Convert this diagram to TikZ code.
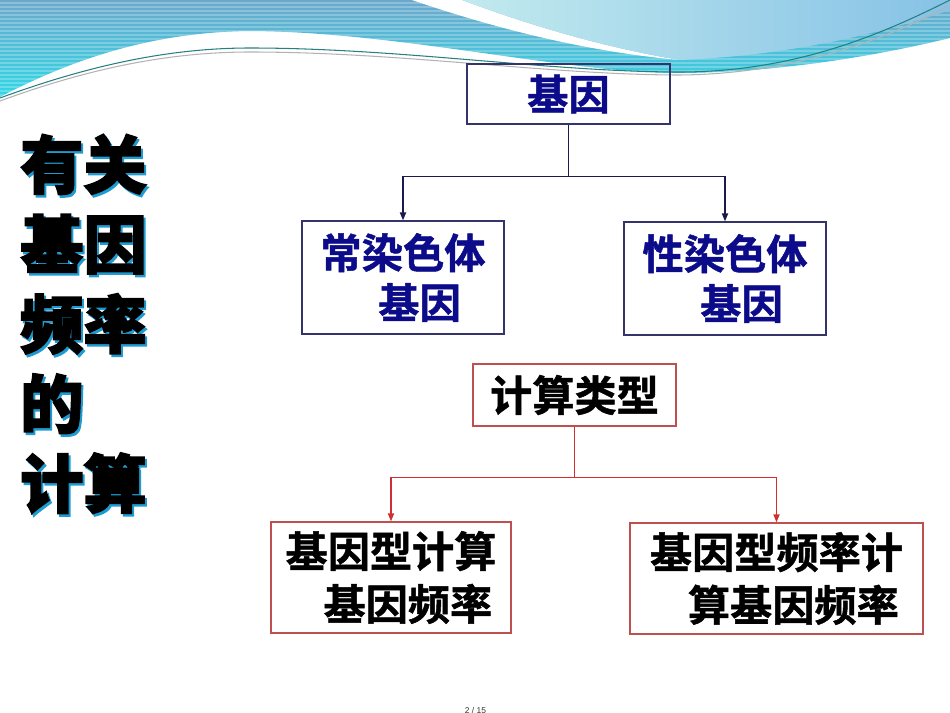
\documentclass[tikz,border=0pt]{standalone}
\usepackage{fontspec}
\usetikzlibrary{arrows.meta}
\newfontfamily\cjk{Noto Sans CJK SC Bold}[FakeBold=1.2]
\newfontfamily\cjkheavy{Noto Sans CJK SC Black}[FakeBold=2.5]
\newfontfamily\pagefont{Liberation Sans}
\definecolor{navytext}{HTML}{0C0C8A}
\definecolor{navyline}{HTML}{1A1A4C}
\definecolor{navyframe}{HTML}{34346A}
\definecolor{redframe}{HTML}{C05050}
\definecolor{redline}{HTML}{D03030}
\definecolor{shadowblue}{HTML}{1E9CD2}
\definecolor{wavetop}{HTML}{6CA8CC}
\definecolor{wavebottom}{HTML}{2ED8E6}
\definecolor{lightleft}{HTML}{C2EAEE}
\definecolor{lightright}{HTML}{86C2E6}

\begin{document}
\begin{tikzpicture}[x=0.02cm,y=-0.02cm,
    titletext/.style={align=left,inner sep=0pt,font=\cjkheavy\fontsize{36}{45.4}\selectfont},
    navybox/.style={draw=navyframe,line width=0.8pt,text=navytext,align=left,inner sep=0pt,
      font=\cjk\fontsize{23.5}{28.35}\selectfont},
    redbox/.style={draw=redframe,line width=0.8pt,text=black,align=left,inner sep=0pt,
      font=\cjk\fontsize{24}{30}\selectfont},
    navyarrow/.style={draw=navyline,line width=0.8pt,-{Triangle[length=4.5pt,width=3.5pt]}},
    redarrow/.style={draw=redline,line width=0.7pt,-{Triangle[length=4.5pt,width=3.5pt]}}]
  \useasboundingbox (0,0) rectangle (950,713);
  % waves at the top
  \begin{scope}
    \clip (0,0) -- (0,97) .. controls (80,55) and (160,32) .. (250,31)
      .. controls (400,32) and (560,72) .. (675,73)
      .. controls (780,73) and (880,55) .. (950,38) -- (950,0) -- cycle;
    \shade[top color=wavetop,bottom color=wavebottom] (0,0) rectangle (950,100);
    \foreach \y in {3,7,...,99}
      \draw[white,opacity=0.25,line width=0.6pt] (0,\y) -- (950,\y);
  \end{scope}
  \fill[white] (412,0) .. controls (500,30) and (590,52) .. (680,60)
    .. controls (600,47) and (520,22) .. (462,0) -- cycle;
  \shade[left color=lightleft,right color=lightright] (462,0)
    .. controls (520,22) and (600,47) .. (680,60)
    .. controls (800,55) and (890,30) .. (950,10) -- (950,0) -- cycle;
  \draw[color=teal!70!gray,line width=0.6pt] (0,98) .. controls (90,65) and (170,48) .. (250,48)
    .. controls (400,48) and (550,72) .. (680,72) .. controls (800,72) and (890,30) .. (950,0);
  \draw[color=gray!60,line width=0.6pt] (0,101) .. controls (90,68) and (170,52) .. (250,52)
    .. controls (400,52) and (550,75) .. (680,75) .. controls (800,74) and (895,35) .. (950,5);
  % title
  \node[titletext,text=shadowblue] (titleshadow) at (85.5,326.5) {有关\\基因\\频率\\的\\计算};
  \node[titletext,text=black] (title) at (83.5,324) {有关\\基因\\频率\\的\\计算};
  % upper chart
  \node[navybox,minimum width=4.06cm,minimum height=1.2cm,align=center] (gene) at (568.5,94) {基因};
  \node[navybox,minimum width=4.04cm,minimum height=2.26cm] (auto) at (403,277.5) {常染色体\\\hspace*{1.4em}基因};
  \node[navybox,minimum width=4.04cm,minimum height=2.26cm] (sex) at (725,278.5) {性染色体\\\hspace*{1.4em}基因};
  \coordinate (gj) at ([yshift=-1.04cm]gene.south);
  \draw[navyline,line width=1.1pt] (gene.south) -- (gj);
  \draw[navyarrow] (gj) -| (auto);
  \draw[navyarrow] (gj) -| (sex);
  % lower chart
  \node[redbox,minimum width=4.06cm,minimum height=1.24cm,align=center] (calc) at (574.5,395) {计算类型};
  \node[redbox,minimum width=4.8cm,minimum height=2.22cm] (geno) at (391,577.5) {基因型计算\\\hspace*{0.9em}基因频率};
  \node[redbox,minimum width=5.86cm,minimum height=2.22cm] (allele) at (776.5,578.5) {基因型频率计\\\hspace*{0.9em}算基因频率};
  \coordinate (cj) at ([yshift=-1.02cm]calc.south);
  \draw[redline,line width=0.7pt] (calc.south) -- (cj);
  \draw[redarrow] (cj) -| (geno);
  \draw[redarrow] (cj) -| (allele);
  % page number
  \node[font=\pagefont\fontsize{4.8}{5}\selectfont,text=black!80,inner sep=0pt] (page) at (475.5,710) {2 / 15};
\end{tikzpicture}
\end{document}
